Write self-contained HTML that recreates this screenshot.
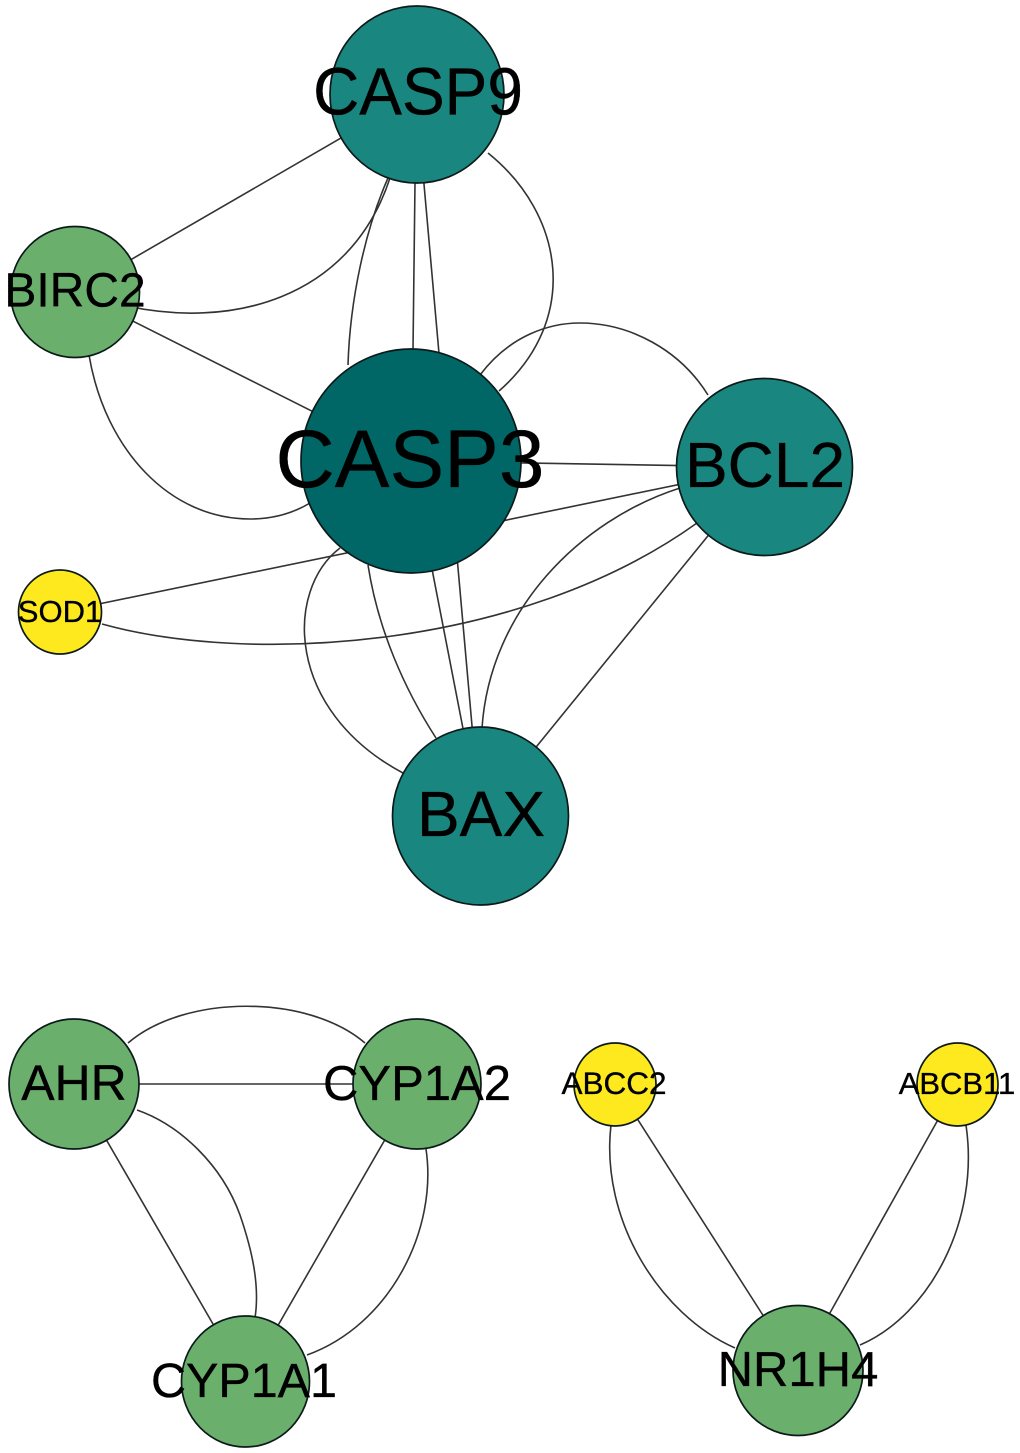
<!DOCTYPE html>
<html><head><meta charset="utf-8"><style>
html,body{margin:0;padding:0;background:#fff}
svg{display:block}
text{font-family:"Liberation Sans",Arial,sans-serif;fill:#000;text-anchor:middle;stroke:#000;stroke-width:.35}
.e{fill:none;stroke:#333;stroke-width:1.6}
.n{stroke:#0c1a1a;stroke-width:1.7}
</style></head><body>
<svg width="1020" height="1453" viewBox="0 0 1020 1453" xmlns="http://www.w3.org/2000/svg">
<g class="e">
<line x1="417" y1="94" x2="75" y2="292"/>
<path d="M122,305 C230,330 350,300 390,178"/>
<path d="M348,365 C350,300 365,230 388,178"/>
<line x1="415" y1="183" x2="413" y2="350"/>
<line x1="416" y1="94" x2="480" y2="816"/>
<path d="M488,153 C565,215 580,320 499,391"/>
<line x1="75" y1="292" x2="411" y2="461"/>
<path d="M89,355 C105,450 170,519 250,519 C275,519 295,512 310,503"/>
<path d="M480,375 C510,335 550,323 580,323 C630,323 680,350 708,395"/>
<line x1="411" y1="461" x2="764" y2="467"/>
<line x1="60" y1="612" x2="764" y2="467"/>
<path d="M102,624 C250,665 520,650 697,523"/>
<path d="M340,548 C285,590 285,710 403,773"/>
<path d="M368,565 C378,630 405,690 436,738"/>
<line x1="411" y1="461" x2="480" y2="816"/>
<path d="M680,488 C580,520 490,610 482,728"/>
<line x1="764" y1="467" x2="480" y2="816"/>
<line x1="74" y1="1084" x2="417" y2="1084"/>
<path d="M128,1043 C185,994 308,994 365,1043"/>
<line x1="74" y1="1084" x2="246" y2="1381"/>
<path d="M137,1110 C180,1125 222,1165 240,1215 C252,1250 260,1285 255,1318"/>
<line x1="417" y1="1084" x2="246" y2="1381"/>
<path d="M426,1149 C438,1230 390,1325 307,1355"/>
<line x1="615" y1="1084" x2="798" y2="1370"/>
<path d="M611,1125 C600,1220 660,1315 735,1348"/>
<line x1="958" y1="1084" x2="798" y2="1370"/>
<path d="M966,1125 C980,1220 930,1315 860,1345"/>
</g>
<g class="n">
<ellipse cx="417" cy="94.5" rx="87" ry="88.5" fill="#1a8680"/>
<ellipse cx="75" cy="292" rx="64.5" ry="65.5" fill="#6baf6d"/>
<ellipse cx="411" cy="461" rx="110" ry="112" fill="#006666"/>
<ellipse cx="764.5" cy="467" rx="88" ry="88.5" fill="#1a8680"/>
<ellipse cx="60" cy="612" rx="41.5" ry="42" fill="#fde91d"/>
<ellipse cx="480.5" cy="816" rx="88" ry="89" fill="#1a8680"/>
<ellipse cx="74" cy="1084" rx="65" ry="65" fill="#6baf6d"/>
<ellipse cx="417" cy="1084" rx="64" ry="65" fill="#6baf6d"/>
<ellipse cx="245.5" cy="1381.5" rx="64" ry="65.5" fill="#6baf6d"/>
<ellipse cx="615" cy="1084.5" rx="41" ry="41.5" fill="#fde91d"/>
<ellipse cx="957.5" cy="1084.5" rx="40.5" ry="41.5" fill="#fde91d"/>
<ellipse cx="798" cy="1370.5" rx="65" ry="65" fill="#6baf6d"/>
</g>
<text transform="translate(418,114.5) scale(1,1.04)" font-size="64">CASP9</text>
<text x="75" y="306.5" font-size="48">BIRC2</text>
<text x="410" y="487" font-size="82">CASP3</text>
<text x="765" y="487" font-size="64">BCL2</text>
<text x="60" y="622" font-size="31">SOD1</text>
<text x="481" y="836" font-size="64">BAX</text>
<text x="74" y="1100" font-size="50">AHR</text>
<text x="417" y="1100" font-size="49">CYP1A2</text>
<text x="244" y="1397" font-size="48.5">CYP1A1</text>
<text x="798" y="1386" font-size="49">NR1H4</text>
<text x="614" y="1094" font-size="31.5">ABCC2</text>
<text x="957" y="1094" font-size="31">ABCB11</text>
</svg>
</body></html>
